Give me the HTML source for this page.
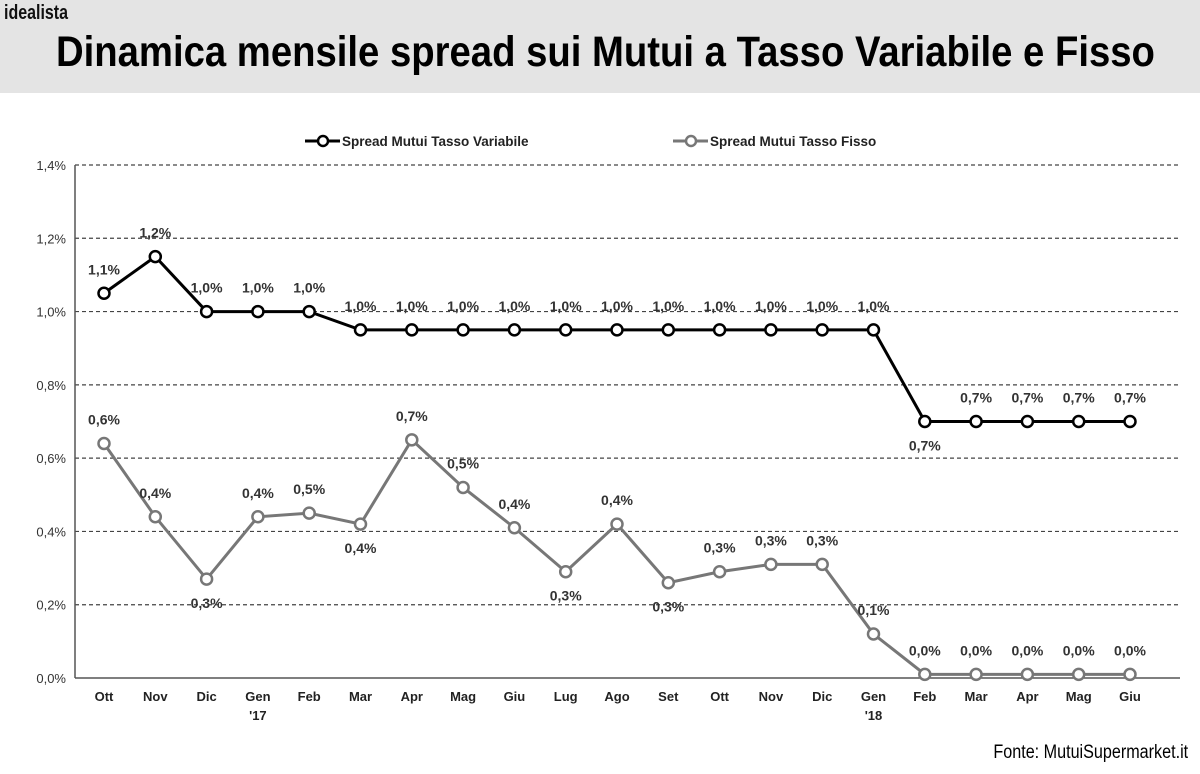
<!DOCTYPE html>
<html><head><meta charset="utf-8"><style>
body{margin:0;width:1200px;height:774px;background:#fff;overflow:hidden;font-family:"Liberation Sans",sans-serif}
#hdr{position:absolute;left:0;top:0;width:1200px;height:93px;background:#e4e4e4}
#logo{position:absolute;left:4px;top:2px;font-size:20px;font-weight:bold;color:#111;transform:scaleX(.8);transform-origin:left}
#title{position:absolute;left:-10px;width:1200px;top:28px;text-align:center;font-size:43px;font-weight:bold;color:#000;transform:scaleX(.89);white-space:nowrap}
#src{position:absolute;right:12px;top:742px;font-size:19px;color:#000;transform:scaleX(.85);transform-origin:right}
svg{position:absolute;left:0;top:0}
</style></head><body>
<div id="hdr"></div>
<div id="logo">idealista</div>
<div id="title">Dinamica mensile spread sui Mutui a Tasso Variabile e Fisso</div>
<div id="src">Fonte: MutuiSupermarket.it</div>
<svg id="chart" width="1200" height="774"></svg>
<script>
const categories=["Ott","Nov","Dic","Gen","Feb","Mar","Apr","Mag","Giu","Lug","Ago","Set","Ott","Nov","Dic","Gen","Feb","Mar","Apr","Mag","Giu"];
const subLabels={3:"'17",15:"'18"};
const variabile=[1.05,1.15,1.0,1.0,1.0,0.95,0.95,0.95,0.95,0.95,0.95,0.95,0.95,0.95,0.95,0.95,0.7,0.7,0.7,0.7,0.7];
const variabileLabels=["1,1%","1,2%","1,0%","1,0%","1,0%","1,0%","1,0%","1,0%","1,0%","1,0%","1,0%","1,0%","1,0%","1,0%","1,0%","1,0%","0,7%","0,7%","0,7%","0,7%","0,7%"];
const variabilePos=["a","a","a","a","a","a","a","a","a","a","a","a","a","a","a","a","b","a","a","a","a"];
const fisso=[0.64,0.44,0.27,0.44,0.45,0.42,0.65,0.52,0.41,0.29,0.42,0.26,0.29,0.31,0.31,0.12,0.01,0.01,0.01,0.01,0.01];
const fissoLabels=["0,6%","0,4%","0,3%","0,4%","0,5%","0,4%","0,7%","0,5%","0,4%","0,3%","0,4%","0,3%","0,3%","0,3%","0,3%","0,1%","0,0%","0,0%","0,0%","0,0%","0,0%"];
const fissoPos=["a","a","b","a","a","b","a","a","a","b","a","b","a","a","a","a","a","a","a","a","a"];
const yTicks=[0,0.2,0.4,0.6,0.8,1.0,1.2,1.4];
const yTickLabels=["0,0%","0,2%","0,4%","0,6%","0,8%","1,0%","1,2%","1,4%"];
const svg=document.getElementById('chart');const NS="http://www.w3.org/2000/svg";
const X0=104,DX=51.3,Y0=678,YK=(678-165)/1.4;
const xs=i=>X0+i*DX, ys=v=>Y0-v*YK;
function mk(t,a,p){const e=document.createElementNS(NS,t);for(const k in a)e.setAttribute(k,a[k]);(p||svg).appendChild(e);return e;}
yTicks.forEach((v,i)=>{
 if(v>0){const g=mk('line',{x1:75,x2:1180,y1:ys(v),y2:ys(v),stroke:'#444','stroke-width':1.2,'stroke-dasharray':'4,3'});
 
 }
 const t=mk('text',{x:66,y:ys(v)+5,'text-anchor':'end','font-size':13,fill:'#333'});t.textContent=yTickLabels[i];
 
 
});
mk('line',{x1:75,x2:75,y1:165,y2:678,stroke:'#555','stroke-width':1.5});
mk('line',{x1:75,x2:1180,y1:678,y2:678,stroke:'#555','stroke-width':1.5});
categories.forEach((c,i)=>{
 const t=mk('text',{x:xs(i),y:701,'text-anchor':'middle','font-size':13,'font-weight':'bold',fill:'#222'});t.textContent=c;
 
 
 if(subLabels[i]){const s=mk('text',{x:xs(i),y:720,'text-anchor':'middle','font-size':13,'font-weight':'bold',fill:'#222'});s.textContent=subLabels[i];
 
 }
});
function series(vals,labels,pos,col,name){
 const g=mk('g',{});
 
 
 const pl=mk('polyline',{points:vals.map((v,i)=>xs(i)+','+ys(v)).join(' '),fill:'none',stroke:col,'stroke-width':3},g);
 
 
 vals.forEach((v,i)=>{
  const c=mk('circle',{cx:xs(i),cy:ys(v),r:5.5,fill:'#fff',stroke:col,'stroke-width':2.5},g);
  
  
  const ly=pos[i]=='a'?ys(v)-19:ys(v)+29;
  const t=mk('text',{x:xs(i),y:ly,'text-anchor':'middle','font-size':14,'font-weight':'bold',fill:'#333'},g);t.textContent=labels[i];
  
  
 });
}
series(fisso,fissoLabels,fissoPos,'#777','fisso');
series(variabile,variabileLabels,variabilePos,'#000','variabile');
function legend(x,col,txt,name){
 const g=mk('g',{});
 
 
 mk('line',{x1:x,x2:x+35,y1:141,y2:141,stroke:col,'stroke-width':3},g);
 mk('circle',{cx:x+18,cy:141,r:5,fill:'#fff',stroke:col,'stroke-width':2.5},g);
 const t=mk('text',{x:x+37,y:146,'font-size':13.5,'font-weight':'bold',fill:'#222'},g);t.textContent=txt;
}
legend(305,'#000','Spread Mutui Tasso Variabile','legend-variabile');
legend(673,'#777','Spread Mutui Tasso Fisso','legend-fisso');
</script>
</body></html>
